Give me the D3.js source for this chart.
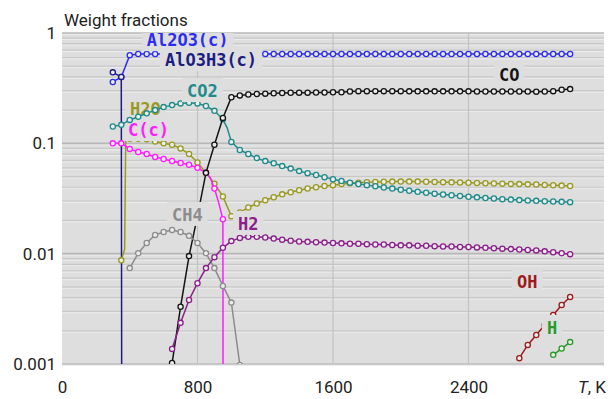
<!DOCTYPE html>
<html>
<head>
<meta charset="utf-8">
<script src="https://cdn.jsdelivr.net/npm/d3@7"></script>
<style>
    body { margin: 0; background: #fff; }
    svg text { font-family: Roboto, "Noto Sans", sans-serif; }
    .lbl { font-family: "DejaVu Sans Mono", monospace; font-weight: bold; font-size: 17px; }
</style>
</head>
<body>
<svg id="drawing_region"></svg>
<script>
// temperature grid, K
const temps = [300, 350, 400, 450, 500, 550, 600, 650, 700, 750, 800, 850, 900, 950, 1000,
    1050, 1100, 1150, 1200, 1250, 1300, 1350, 1400, 1450, 1500, 1550, 1600, 1650,
    1700, 1750, 1800, 1850, 1900, 1950, 2000, 2050, 2100, 2150, 2200, 2250, 2300, 2350, 2400,
    2450, 2500, 2550, 2600, 2650, 2700, 2750, 2800, 2850, 2900, 2950, 3000];

const xTicks = [0, 800, 1600, 2400];
const yTicks = [0.001, 0.01, 0.1, 1];
const yTickLabels = ['0.001', '0.01', '0.1', '1'];

// weight fractions, each starting at the given temperature
const al2o3 = [0.36, 0.40, 0.63, 0.645, 0.645, 0.645, 0.645, 0.645, 0.645, 0.645, 0.645, 0.645, 0.645, 0.645, 0.645,
    0.645, 0.645, 0.645, 0.645, 0.645, 0.645, 0.645, 0.645, 0.645, 0.645, 0.645, 0.645, 0.645,
    0.645, 0.645, 0.645, 0.645, 0.645, 0.645, 0.645, 0.645, 0.645, 0.645, 0.645, 0.645, 0.645, 0.645, 0.645,
    0.645, 0.645, 0.645, 0.645, 0.645, 0.645, 0.645, 0.645, 0.645, 0.645, 0.645, 0.645];
const alo3h3 = [0.44, 0.40];
const alo3h3Drop = [[354, 0.00001]];

const h2o = [0.0087, 0.110, 0.110, 0.109, 0.104, 0.100, 0.097, 0.090, 0.080, 0.067, 0.054, 0.043, 0.033, 0.0218,
    0.0236, 0.0262, 0.0285, 0.0305, 0.0325, 0.0345, 0.0360, 0.0376, 0.0390, 0.0400, 0.0410, 0.0418, 0.0427,
    0.0434, 0.0440, 0.0444, 0.0447, 0.0449, 0.0450, 0.0450, 0.0450, 0.0450, 0.0449, 0.0447, 0.0445, 0.0443, 0.0441, 0.0439,
    0.0437, 0.0435, 0.0433, 0.0431, 0.0429, 0.0427, 0.0425, 0.0423, 0.0420, 0.0417, 0.0414, 0.0410];
const h2oJump = [[370, 0.011], [376, 0.105]];

const carbon = [0.100, 0.100, 0.089, 0.0834, 0.080, 0.0752, 0.0721, 0.0692, 0.0664, 0.064, 0.060, 0.054, 0.039, 0.0205];
const carbonDrop = [[875, 0.049], [925, 0.029], [952, 0.00001]];

const co2 = [0.142, 0.147, 0.163, 0.174, 0.187, 0.200, 0.213, 0.222, 0.230, 0.233, 0.230, 0.218, 0.197, 0.165, 0.103,
    0.087, 0.080, 0.0735, 0.069, 0.066, 0.0622, 0.059, 0.056, 0.0537, 0.0516, 0.0494, 0.0473, 0.0456,
    0.0440, 0.0428, 0.0418, 0.0408, 0.0398, 0.0389, 0.0380, 0.0372, 0.0364, 0.0357, 0.0350, 0.0344, 0.0338, 0.0333, 0.0328,
    0.0324, 0.0320, 0.0316, 0.0312, 0.0309, 0.0306, 0.0303, 0.0301, 0.0299, 0.0297, 0.0295, 0.0293];
const co2Bend = [[975, 0.138]];

const co = [0.00102, 0.0033, 0.0095, 0.022, 0.054, 0.097, 0.17, 0.262,
    0.272, 0.277, 0.280, 0.282, 0.284, 0.286, 0.287, 0.288, 0.288, 0.289, 0.289, 0.290, 0.290,
    0.295, 0.297, 0.297, 0.297, 0.297, 0.297, 0.297, 0.296, 0.296, 0.296, 0.296, 0.296, 0.296, 0.296, 0.296,
    0.295, 0.295, 0.295, 0.295, 0.295, 0.295, 0.295, 0.294, 0.295, 0.297, 0.306, 0.310];

const ch4 = [0.0074, 0.0101, 0.0125, 0.0148, 0.0157, 0.0164, 0.0157, 0.0145, 0.0125, 0.0101, 0.0074, 0.0051, 0.0036, 0.00098];

const h2 = [0.00137, 0.00236, 0.0038, 0.0054, 0.0074, 0.0093, 0.0113, 0.0130,
    0.0139, 0.0142, 0.0142, 0.0140, 0.0137, 0.0134, 0.0131, 0.0129, 0.0128, 0.0127, 0.0126, 0.0125, 0.0124,
    0.0123, 0.0123, 0.0122, 0.0121, 0.0121, 0.0120, 0.0119, 0.0119, 0.0118, 0.0118, 0.0117, 0.0116, 0.0116, 0.0115, 0.0115,
    0.0114, 0.0113, 0.0112, 0.0111, 0.0110, 0.0109, 0.0108, 0.0107, 0.0105, 0.0103, 0.0101, 0.0099];

const oh = [0.00113, 0.00149, 0.00183, 0.00226, 0.00278, 0.00343, 0.00405];
const hAtom = [0.00121, 0.00138, 0.00158];

const series = [
    { name: 'Al2O3(c)', start: 300, values: al2o3, extra: [], color: '#2c2cf2', label: [500, 0.76] },
    { name: 'AlO3H3(c)', start: 300, values: alo3h3, extra: alo3h3Drop, color: '#1c1c82', label: [608, 0.50] },
    { name: 'H2O', start: 350, values: h2o, extra: h2oJump, color: '#9a9a22', label: [401, 0.181] },
    { name: 'C(c)', start: 300, values: carbon, extra: carbonDrop, color: '#ff1cff', label: [390, 0.1165] },
    { name: 'CO2', start: 300, values: co2, extra: co2Bend, color: '#1f8b8b', label: [738, 0.263] },
    { name: 'CO', start: 650, values: co, extra: [], color: '#141414', label: [2580, 0.367] },
    { name: 'CH4', start: 400, values: ch4, extra: [], color: '#8c8c8c', label: [650, 0.0198] },
    { name: 'H2', start: 650, values: h2, extra: [], color: '#8b1f8b', label: [1039, 0.0164] },
    { name: 'OH', start: 2700, values: oh, extra: [], color: '#9b1b1b', label: [2686, 0.00489] },
    { name: 'H', start: 2900, values: hAtom, extra: [], color: '#2a9a2a', label: [2863, 0.00187] },
];

class FractionChart {

    constructor( config, series ) {
        this.config = config;
        this.series = series;
        this.init();
    }

    init() {
        let self = this;
        const m = self.config.margin;

        self.svg = d3.select( self.config.parent )
            .attr('width', self.config.width)
            .attr('height', self.config.height);

        self.inner_width = self.config.width - m.left - m.right;
        self.inner_height = self.config.height - m.top - m.bottom;

        self.xscale = d3.scaleLinear()
            .domain([0, 3200])
            .range([m.left, m.left + self.inner_width]);

        self.yscale = d3.scaleLog()
            .domain([0.001, 1])
            .range([m.top + self.inner_height, m.top]);

        self.line = d3.line()
            .x(d => self.xscale(d.t))
            .y(d => self.yscale(d.v));
    }

    render() {
        let self = this;
        const m = self.config.margin;
        const x0 = m.left, x1 = m.left + self.inner_width;
        const y0 = m.top, y1 = m.top + self.inner_height;

        self.svg.append('rect')
            .attr('x', x0).attr('y', y0)
            .attr('width', self.inner_width).attr('height', self.inner_height)
            .attr('fill', '#dedede');

        // horizontal grid on every log tick
        const grid = self.svg.append('g');
        self.yscale.ticks().forEach(d => {
            const major = Math.abs(Math.log10(d) - Math.round(Math.log10(d))) < 1e-9;
            const yy = self.yscale(d);
            grid.append('line')
                .attr('x1', x0).attr('x2', x1)
                .attr('y1', yy + 1.5).attr('y2', yy + 1.5)
                .attr('stroke', '#ececec').attr('stroke-width', 1);
            grid.append('line')
                .attr('x1', x0).attr('x2', x1)
                .attr('y1', yy).attr('y2', yy)
                .attr('stroke', major ? '#b8b8b8' : '#c8c8c8')
                .attr('stroke-width', major ? 1.6 : 1.2);
        });
        xTicks.filter(d => d > 0).forEach(d => {
            grid.append('line')
                .attr('x1', self.xscale(d)).attr('x2', self.xscale(d))
                .attr('y1', y0).attr('y2', y1)
                .attr('stroke', '#c2c2c2').attr('stroke-width', 1.2);
        });

        self.svg.append('clipPath').attr('id', 'plot_clip')
            .append('rect')
            .attr('x', x0).attr('y', y0)
            .attr('width', self.inner_width).attr('height', self.inner_height);

        const plot = self.svg.append('g').attr('clip-path', 'url(#plot_clip)');

        self.series.forEach(s => {
            const i0 = temps.indexOf(s.start);
            const marked = s.values.map((v, i) => ({ t: temps[i0 + i], v: v, mark: true }));
            const bare = s.extra.map(p => ({ t: p[0], v: p[1], mark: false }));
            const pts = marked.concat(bare).sort((a, b) => a.t - b.t);

            plot.append('path')
                .attr('d', self.line(pts))
                .attr('fill', 'none')
                .attr('stroke', s.color)
                .attr('stroke-width', 1.5);

            plot.selectAll(null)
                .data(marked)
                .enter()
                .append('circle')
                .attr('cx', d => self.xscale(d.t))
                .attr('cy', d => self.yscale(d.v))
                .attr('r', 2.6)
                .attr('fill', '#ececec')
                .attr('stroke', s.color)
                .attr('stroke-width', 1.3);

            const tx = self.xscale(s.label[0]);
            const ty = self.yscale(s.label[1]);
            const box = plot.append('rect').attr('fill', '#dedede');
            const txt = plot.append('text')
                .attr('class', 'lbl')
                .attr('x', tx).attr('y', ty)
                .attr('fill', s.color)
                .text(s.name);
            const w = txt.node().getComputedTextLength();
            box.attr('x', tx - 5).attr('y', ty - 19)
                .attr('width', w + 10).attr('height', 24);
        });

        // axes
        const yaxis = d3.axisLeft(self.yscale)
            .tickValues(yTicks)
            .tickFormat((d, i) => yTickLabels[i])
            .tickSize(0)
            .tickPadding(6);
        const xaxis = d3.axisBottom(self.xscale)
            .tickValues(xTicks)
            .tickFormat(d => d)
            .tickSize(0)
            .tickPadding(17);

        const ya = self.svg.append('g')
            .attr('transform', `translate(${x0}, 0)`)
            .call(yaxis);
        const xa = self.svg.append('g')
            .attr('transform', `translate(0, ${y1})`)
            .call(xaxis);

        [ya, xa].forEach(a => {
            a.select('.domain').remove();
            a.selectAll('text')
                .attr('fill', '#222')
                .style('font-family', 'Roboto, sans-serif')
                .style('font-size', '17px');
        });

        self.svg.append('text')
            .attr('x', 64).attr('y', 26)
            .attr('fill', '#222')
            .style('font-size', '17px')
            .text('Weight fractions');

        const tlabel = self.svg.append('text')
            .attr('x', 606).attr('y', 393)
            .attr('text-anchor', 'end')
            .attr('fill', '#222')
            .style('font-size', '17px');
        tlabel.append('tspan').style('font-style', 'italic').text('T');
        tlabel.append('tspan').text(', K');
    }
}

const config = {
    parent: '#drawing_region',
    width: 608,
    height: 399,
    margin: {top: 33, right: 4, bottom: 35, left: 62},
};

const chart = new FractionChart( config, series );
chart.render();
</script>
</body>
</html>
